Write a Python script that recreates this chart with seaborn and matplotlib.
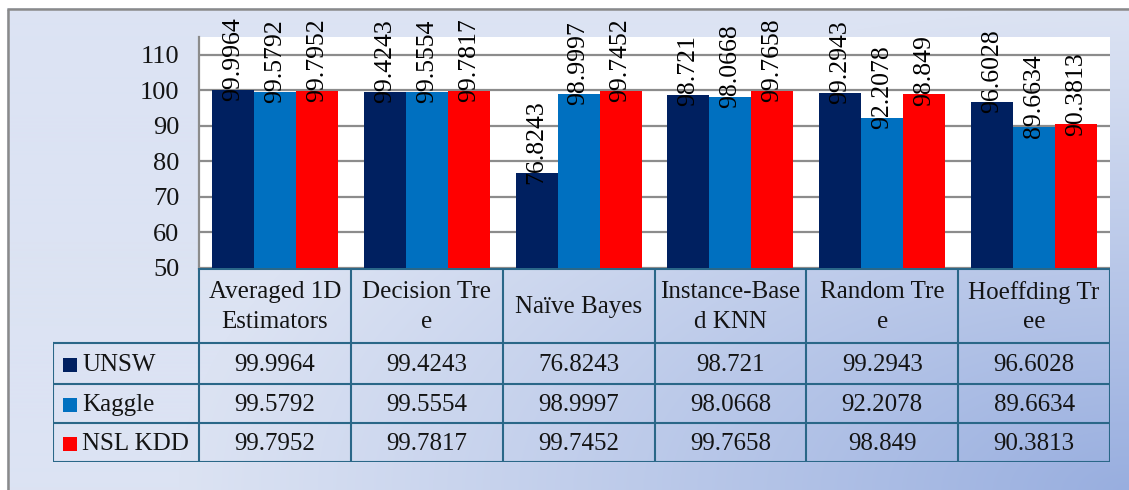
import numpy as np
import pandas as pd
import matplotlib
matplotlib.use("Agg")
import matplotlib.pyplot as plt
from matplotlib.patches import Rectangle
import seaborn as sns

# ---- data -------------------------------------------------------------
categories = ["Averaged 1D\nEstimators", "Decision Tre\ne", "Naïve Bayes",
              "Instance-Base\nd KNN", "Random Tre\ne", "Hoeffding Tr\nee"]
datasets = ["UNSW", "Kaggle", "NSL KDD"]
unsw = [99.9964, 99.4243, 76.8243, 98.721, 99.2943, 96.6028]
kaggle = [99.5792, 99.5554, 98.9997, 98.0668, 92.2078, 89.6634]
nsl_kdd = [99.7952, 99.7817, 99.7452, 99.7658, 98.849, 90.3813]
y_ticks = [50, 60, 70, 80, 90, 100, 110]

colors = ["#002060", "#0070C0", "#FF0000"]
series = [unsw, kaggle, nsl_kdd]

rows = []
for name, vals in zip(datasets, series):
    for cat, v in zip(categories, vals):
        rows.append({"method": cat, "dataset": name, "score": v})
df = pd.DataFrame(rows)

sns.set_theme(style="white")
SERIF = ["Liberation Serif", "DejaVu Serif"]
plt.rcParams["font.family"] = SERIF
plt.rcParams["font.serif"] = SERIF

W, H = 1129, 490
fig = plt.figure(figsize=(W / 100, H / 100), dpi=100)


def px_axes(x0, y0, x1, y1):
    return fig.add_axes([x0 / W, 1 - y1 / H, (x1 - x0) / W, (y1 - y0) / H])


# ---- background panel with soft blue gradient ---------------------------
bg = px_axes(0, 0, W, H)
yy, xx = np.mgrid[0:H, 0:W]
d = np.sqrt(((W - xx) / 950.0) ** 2 + ((H - yy) / 480.0) ** 2)
t = np.clip(1 - d, 0, 1) ** 1.05
light = np.array([0xDC, 0xE3, 0xF3]) / 255
dark = np.array([0x98, 0xAE, 0xDF]) / 255
img = light[None, None, :] + (dark - light)[None, None, :] * t[..., None]
img[yy < 9] = 1.0
img[xx < 7] = 1.0
bg.imshow(img, extent=(0, W, H, 0), aspect="auto", interpolation="bilinear")
bg.plot([7.5, 7.5], [9, H], color="#8A8A8A", lw=1.8, solid_capstyle="butt")
bg.plot([7, W], [9.5, 9.5], color="#8A8A8A", lw=1.8, solid_capstyle="butt")
bg.set_xlim(0, W)
bg.set_ylim(H, 0)
bg.axis("off")

# ---- bar chart -----------------------------------------------------------
ax = px_axes(199, 37, 1110, 268)
ax.set_facecolor("white")
sns.barplot(data=df, x="method", y="score", hue="dataset", palette=colors,
            width=0.83, saturation=1, linewidth=0, legend=False, ax=ax)
ax.set_xlim(-0.5, 5.5)
ax.set_ylim(50, 115)
ax.set_yticks(y_ticks)
ax.set_yticklabels([str(v) for v in y_ticks], fontfamily=SERIF, fontsize=19,
                   color="#141414")
ax.set_xticks([])
ax.set_xlabel("")
ax.set_ylabel("")
ax.yaxis.grid(True, color="#8C8C8C", lw=1.6)
ax.set_axisbelow(True)
for side in ["top", "right", "bottom"]:
    ax.spines[side].set_visible(False)
ax.spines["left"].set_color("#8C8C8C")
ax.spines["left"].set_linewidth(1.6)
ax.tick_params(axis="y", length=0, pad=14)

for container, vals in zip(ax.containers, series):
    ax.bar_label(container, labels=[f"{v:g}" for v in vals], rotation=90,
                 padding=-8, fontsize=18.5, color="black", fontfamily=SERIF)

# ---- data table beneath the bars ----------------------------------------
col_px = 151.83
left_px = 146
tb = px_axes(53, 268, 1110, 462)
x_left = -0.5 - left_px / col_px
tb.set_xlim(x_left, 5.5)
tb.set_ylim(194, 0)
tb.axis("off")

line_kw = dict(color="#2A6788", lw=1.5, solid_capstyle="projecting")
row_edges = [75, 116, 155, 194]
tb.plot([-0.5, 5.5], [0.7, 0.7], **line_kw)
for y in row_edges:
    tb.plot([x_left, 5.5], [y, y], **line_kw)
for i in range(len(categories) + 1):
    tb.plot([-0.5 + i, -0.5 + i], [0, 194], **line_kw)
tb.plot([x_left, x_left], [75, 194], **line_kw)

txt_kw = dict(fontsize=18, color="#141414", fontfamily=SERIF)
for i, cat in enumerate(categories):
    tb.text(i, 39, cat, ha="center", va="center", linespacing=1.45, **txt_kw)

for r, (name, vals, col) in enumerate(zip(datasets, series, colors)):
    y0, y1 = row_edges[r], row_edges[r + 1]
    yc = (y0 + y1) / 2
    tb.add_patch(Rectangle((x_left + 10 / col_px, yc - 6), 14 / col_px, 14,
                           color=col, lw=0))
    tb.text(x_left + 29 / col_px, yc + 1, name, ha="left", va="center",
            **txt_kw)
    for i, v in enumerate(vals):
        tb.text(i, yc + 1, f"{v:g}", ha="center", va="center", **txt_kw)

fig.savefig("out.png", dpi=100)
